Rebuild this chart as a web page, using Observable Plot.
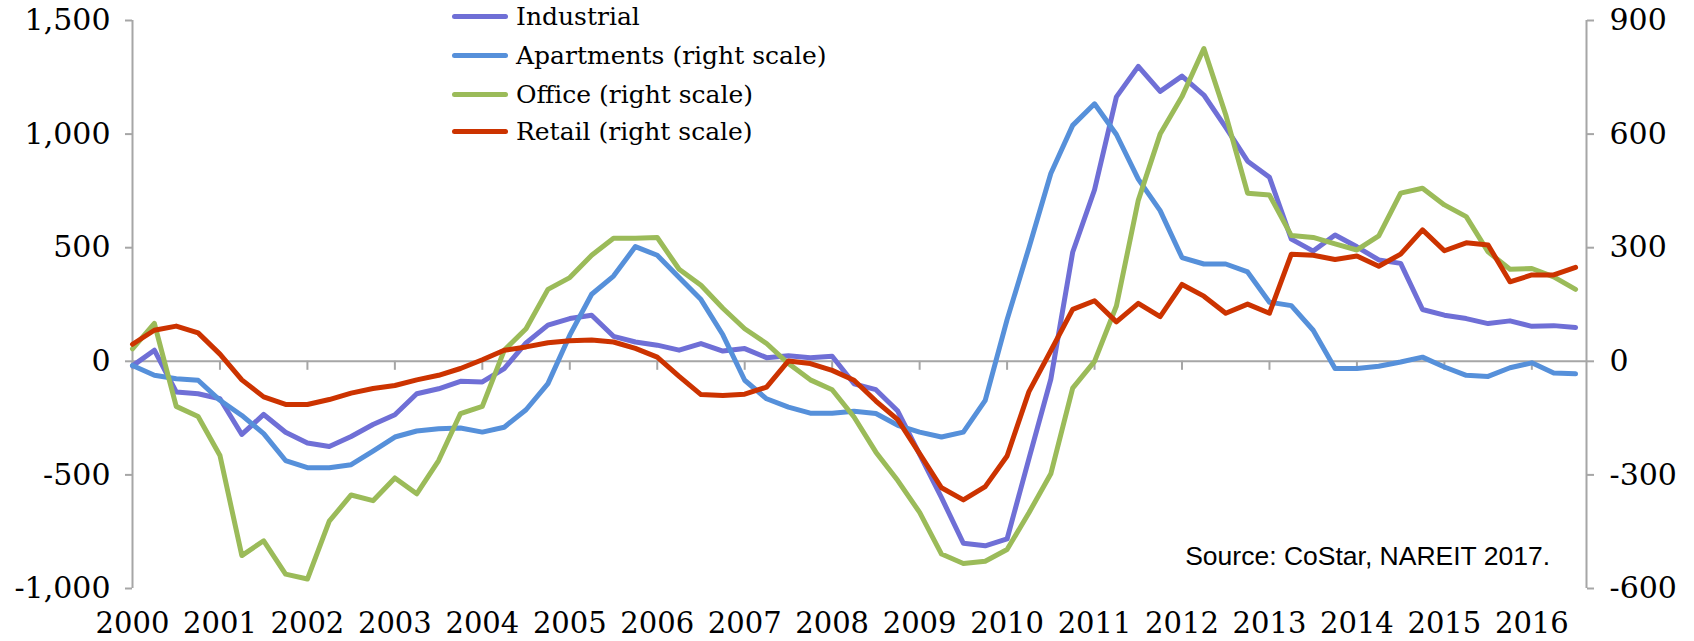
<!DOCTYPE html>
<html>
<head>
<meta charset="utf-8">
<script src="https://cdn.jsdelivr.net/npm/d3@7"></script>
<script src="https://cdn.jsdelivr.net/npm/@observablehq/plot@0.6"></script>
<style>
  body { margin: 0; background: #fff; }
  #wrap { position: relative; width: 1694px; height: 641px; overflow: hidden; }
  #legend { position: absolute; left: 452px; top: 0; font-family: "DejaVu Serif", serif; font-size: 25px; color: #000; }
  .row { position: absolute; left: 0; display: flex; align-items: center; white-space: nowrap; height: 30px; }
  .sw { width: 56px; height: 5px; border-radius: 3px; margin-right: 8px; }
  #source { position: absolute; right: 144px; top: 541px; font-family: "Liberation Sans", Arial, sans-serif; font-size: 26.5px; color: #000; white-space: nowrap; }
</style>
</head>
<body>
<div id="wrap">
  <div id="chart"></div>
  <div id="legend"></div>
  <div id="source">Source: CoStar, NAREIT 2017.</div>
</div>
<script>
// ---- Data (quarterly, 2000Q1 .. 2016Q3) ----
const startYear = 2000;
const years = [2000, 2001, 2002, 2003, 2004, 2005, 2006, 2007, 2008, 2009, 2010, 2011, 2012, 2013, 2014, 2015, 2016];

// Industrial (left scale)
const industrial = [-20, 49, -135, -143, -165, -322, -234, -312, -360, -375,
  -331, -278, -235, -143, -121, -88, -91, -32, 81, 159,
  188, 203, 110, 85, 71, 49, 78, 45, 56, 16,
  24, 16, 22, -99, -125, -219, -410, -600, -801, -812,
  -782, -428, -79, 480, 755, 1164, 1298, 1188, 1255, 1172,
  1030, 881, 810, 538, 485, 556, 504, 446, 431, 228,
  203, 188, 166, 178, 154, 157, 149];

// Apartments (right scale)
const apartments = [-11, -37, -46, -50, -103, -143, -191, -262, -281, -281,
  -273, -237, -200, -184, -178, -176, -187, -174, -128, -59,
  69, 177, 225, 303, 280, 221, 163, 70, -50, -99,
  -121, -137, -137, -132, -138, -169, -187, -200, -187, -103,
  110, 300, 496, 623, 680, 599, 481, 398, 274, 257,
  257, 236, 156, 147, 82, -19, -19, -13, -2, 11,
  -15, -37, -40, -17, -4, -31, -33];

// Office (right scale)
const office = [33, 100, -119, -146, -249, -513, -474, -562, -575, -422,
  -353, -368, -308, -350, -262, -138, -119, 29, 86, 190,
  221, 280, 325, 325, 327, 243, 201, 140, 86, 47,
  -6, -49, -75, -147, -240, -315, -399, -509, -534, -528,
  -497, -400, -297, -71, 0, 146, 425, 600, 699, 826,
  651, 444, 439, 332, 327, 310, 294, 331, 444, 457,
  413, 382, 289, 243, 245, 223, 190];

// Retail (right scale)
const retail = [45, 82, 93, 75, 19, -49, -94, -114, -114, -101,
  -84, -72, -64, -49, -37, -19, 4, 29, 38, 49,
  54, 56, 51, 34, 11, -40, -88, -90, -87, -68,
  1, -6, -24, -50, -105, -154, -244, -334, -366, -331,
  -250, -80, 28, 137, 160, 104, 153, 118, 203, 172,
  127, 151, 127, 283, 280, 269, 278, 251, 283, 347,
  292, 313, 307, 210, 228, 228, 248];

const seriesNames = ["Industrial", "Apartments (right scale)", "Office (right scale)", "Retail (right scale)"];
const seriesColors = ["#6F6FD6", "#5690DA", "#9BBB59", "#CC3300"];
const onRight = [false, true, true, true];

const leftTicks = [-1000, -500, 0, 500, 1000, 1500];
const rightTicks = [-600, -300, 0, 300, 600, 900];
const rightRatio = 0.6; // right value = left value * 0.6

// ---- Build table ----
const allSeries = [industrial, apartments, office, retail];
const rows = [];
allSeries.forEach((vals, s) => {
  vals.forEach((v, i) => {
    rows.push({
      series: seriesNames[s],
      t: startYear + i / 4,
      y: onRight[s] ? v / rightRatio : v
    });
  });
});

const fmt = d => (d < 0 ? "-" : "") + d3.format(",")(Math.abs(d));
const axisGray = "#a6a6a6";
const xMax = startYear + (industrial.length - 1) / 4 + 0.125;
const tickFont = 30;

const chart = Plot.plot({
  width: 1694,
  height: 641,
  marginLeft: 132,
  marginRight: 108,
  marginTop: 20,
  marginBottom: 53,
  style: { fontFamily: "'DejaVu Serif', serif", fontSize: "30px", color: "#000", background: "transparent" },
  x: { type: "linear", domain: [startYear, xMax], axis: null, label: null },
  y: { domain: [leftTicks[0], leftTicks[leftTicks.length - 1]], axis: null, label: null },
  color: { domain: seriesNames, range: seriesColors },
  marks: [
    // vertical axis lines
    Plot.ruleX([startYear], { stroke: axisGray, strokeWidth: 2 }),
    Plot.ruleX([xMax], { stroke: axisGray, strokeWidth: 2 }),
    // zero baseline
    Plot.ruleY([0], { stroke: axisGray, strokeWidth: 2 }),
    // year ticks on the zero line
    Plot.ruleX(years, { x: d => d, y1: 0, y2: 0, insetBottom: -9, stroke: axisGray, strokeWidth: 2 }),
    // left axis
    Plot.axisY(leftTicks, { anchor: "left", label: null, tickSize: 7, tickPadding: 15, tickFormat: fmt, stroke: axisGray, strokeWidth: 2, fill: "#000", fontSize: tickFont }),
    // right axis
    Plot.axisY(rightTicks.map(v => v / rightRatio), { anchor: "right", label: null, tickSize: 7, tickPadding: 16, tickFormat: d => fmt(Math.round(d * rightRatio)), stroke: axisGray, strokeWidth: 2, fill: "#000", fontSize: tickFont }),
    // year labels
    Plot.axisX(years, { anchor: "bottom", label: null, tickSize: 0, tickPadding: 24, tickFormat: d => String(d), fill: "#000", fontSize: 29 }),
    // series lines
    Plot.line(rows, { x: "t", y: "y", z: "series", stroke: "series", strokeWidth: 5, strokeLinejoin: "round", strokeLinecap: "round" })
  ]
});
document.getElementById("chart").appendChild(chart);

// ---- Legend ----
const legend = document.getElementById("legend");
const rowTops = [1, 40, 79, 116];
seriesNames.forEach((name, k) => {
  const r = document.createElement("div");
  r.className = "row";
  r.style.top = rowTops[k] + "px";
  const sw = document.createElement("div");
  sw.className = "sw";
  sw.style.background = seriesColors[k];
  const tx = document.createElement("span");
  tx.textContent = name;
  r.appendChild(sw);
  r.appendChild(tx);
  legend.appendChild(r);
});
</script>
</body>
</html>
